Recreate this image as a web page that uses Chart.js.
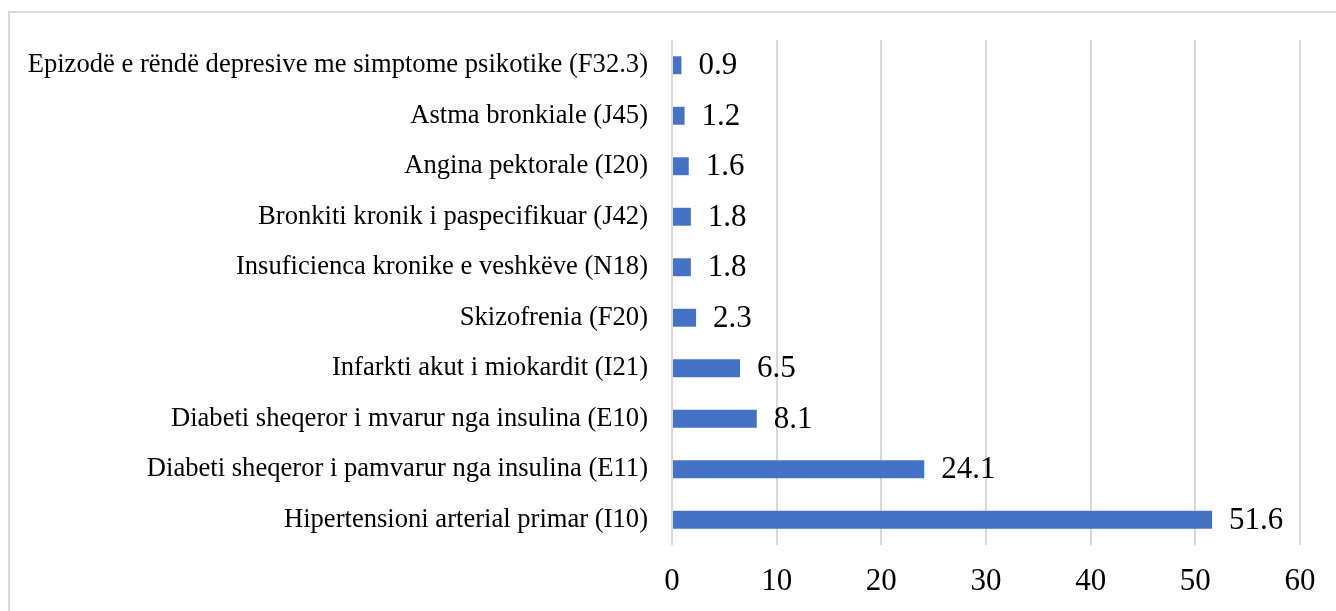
<!DOCTYPE html>
<html>
<head>
<meta charset="utf-8">
<script src="https://cdn.jsdelivr.net/npm/chart.js@4"></script>
<style>
  html, body { margin: 0; padding: 0; background: #fff; }
  #wrap { width: 1336px; height: 611px; position: relative; }
</style>
</head>
<body>
<div id="wrap"><canvas id="chart" width="1336" height="611"></canvas></div>
<script>
var categories = [
  'Epizodë e rëndë depresive me simptome psikotike (F32.3)',
  'Astma bronkiale (J45)',
  'Angina pektorale (I20)',
  'Bronkiti kronik i paspecifikuar (J42)',
  'Insuficienca kronike e veshkëve (N18)',
  'Skizofrenia (F20)',
  'Infarkti akut i miokardit (I21)',
  'Diabeti sheqeror i mvarur nga insulina (E10)',
  'Diabeti sheqeror i pamvarur nga insulina (E11)',
  'Hipertensioni arterial primar (I10)'
];
var values = [0.9, 1.2, 1.6, 1.8, 1.8, 2.3, 6.5, 8.1, 24.1, 51.6];
var xTicks = [0, 10, 20, 30, 40, 50, 60];

var serif = "'Liberation Serif', 'Times New Roman', serif";

// outer frame, like the exported chart box
var framePlugin = {
  id: 'frame',
  beforeDraw: function(chart) {
    var ctx = chart.ctx;
    ctx.save();
    ctx.strokeStyle = '#d9d9d9';
    ctx.lineWidth = 2;
    ctx.strokeRect(9, 12, 1400, 700);
    ctx.restore();
  }
};

// value labels to the right of each bar
var labelPlugin = {
  id: 'valueLabels',
  afterDatasetsDraw: function(chart) {
    var ctx = chart.ctx;
    var meta = chart.getDatasetMeta(0);
    ctx.save();
    ctx.font = '31px ' + serif;
    ctx.fillStyle = '#000';
    ctx.textAlign = 'left';
    ctx.textBaseline = 'middle';
    meta.data.forEach(function(bar, i) {
      ctx.fillText(String(values[i]), bar.x + 17, bar.y + 1);
    });
    ctx.restore();
  }
};

new Chart(document.getElementById('chart').getContext('2d'), {
  type: 'bar',
  data: {
    labels: categories,
    datasets: [{
      data: values,
      backgroundColor: '#4472C4',
      borderWidth: 0,
      barPercentage: 0.5,
      categoryPercentage: 0.71
    }]
  },
  options: {
    indexAxis: 'y',
    responsive: false,
    animation: false,
    layout: { padding: { top: 40, right: 36, left: 0, bottom: 0 } },
    plugins: {
      legend: { display: false },
      tooltip: { enabled: false }
    },
    scales: {
      x: {
        min: 0,
        max: 60,
        afterBuildTicks: function(scale) {
          scale.ticks = xTicks.map(function(v) { return { value: v }; });
        },
        afterFit: function(scale) { scale.height = 66; },
        grid: { color: '#d9d9d9', lineWidth: 2, drawTicks: false },
        border: { display: false },
        ticks: {
          color: '#000',
          padding: 18,
          font: { family: serif, size: 31 }
        }
      },
      y: {
        afterFit: function(scale) { scale.width = 672; },
        grid: { display: false, drawTicks: false },
        border: { display: false },
        ticks: {
          color: '#000',
          padding: 24,
          font: { family: serif, size: 26.6 }
        }
      }
    }
  },
  plugins: [framePlugin, labelPlugin]
});
</script>
</body>
</html>
